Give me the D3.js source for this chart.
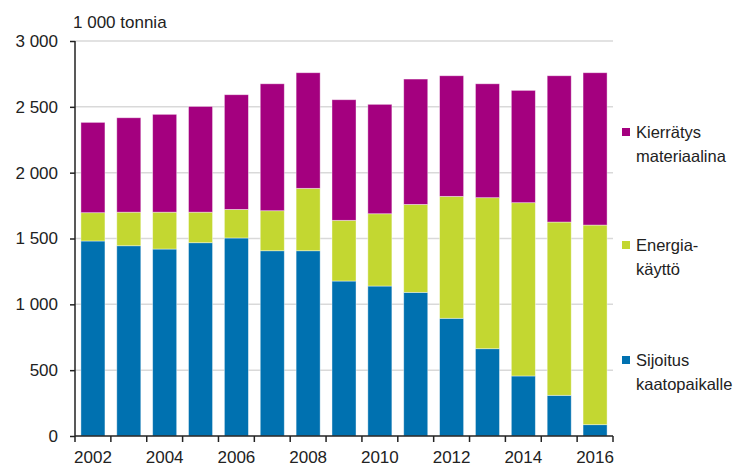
<!DOCTYPE html>
<html>
<head>
<meta charset="utf-8">
<script src="https://cdn.jsdelivr.net/npm/d3@7"></script>
<style>
  body { margin: 0; background: #fff; }
  svg text { font-family: "Liberation Sans", Arial, sans-serif; fill: #222; }
</style>
</head>
<body>
<svg id="chart" width="749" height="466"></svg>
<script>
var years = [2002, 2003, 2004, 2005, 2006, 2007, 2008, 2009, 2010, 2011, 2012, 2013, 2014, 2015, 2016];
var sijoitus = [1481, 1445, 1420, 1468, 1504, 1407, 1407, 1177, 1139, 1091, 894, 663, 456, 309, 86];
var energia = [215, 255, 280, 232, 217, 304, 474, 461, 549, 668, 926, 1147, 1316, 1316, 1516];
var kierratys = [686, 717, 743, 803, 871, 964, 878, 916, 831, 952, 916, 865, 853, 1111, 1157];
var yTicks = [0, 500, 1000, 1500, 2000, 2500, 3000];
var keys = ["sijoitus", "energia", "kierratys"];
var colors = { sijoitus: "#0071b0", energia: "#c3d731", kierratys: "#a4007f" };
var legendLabels = {
  kierratys: ["Kierrätys", "materiaalina"],
  energia: ["Energia-", "käyttö"],
  sijoitus: ["Sijoitus", "kaatopaikalle"]
};

(function() {
  var rows = years.map(function(yr, i) {
    return { year: yr, sijoitus: sijoitus[i], energia: energia[i], kierratys: kierratys[i] };
  });

  var svg = d3.select("#chart");
  var mLeft = 75, mRight = 613, mTop = 41, mBottom = 436;

  var x = d3.scaleBand().domain(years).range([mLeft, mRight]).paddingInner(0.33).paddingOuter(0.165);
  var y = d3.scaleLinear().domain([0, 3000]).range([mBottom, mTop]);

  var fmt = function(d) { return d3.format(",")(d).replace(",", " "); };

  // grid
  svg.append("g").selectAll("line").data(yTicks.slice(1)).enter().append("line")
    .attr("x1", mLeft).attr("x2", mRight)
    .attr("y1", function(d) { return y(d); }).attr("y2", function(d) { return y(d); })
    .attr("stroke", "#d9d9d9").attr("stroke-width", 1.5);

  // bars
  var stack = d3.stack().keys(keys)(rows);
  svg.append("g").selectAll("g").data(stack).enter().append("g")
    .attr("fill", function(d) { return colors[d.key]; })
    .selectAll("rect").data(function(d) { return d; }).enter().append("rect")
    .attr("x", function(d) { return x(d.data.year); })
    .attr("width", x.bandwidth())
    .attr("y", function(d) { return y(d[1]); })
    .attr("height", function(d) { return y(d[0]) - y(d[1]); })
    .attr("stroke", "#fff").attr("stroke-opacity", 0.5).attr("stroke-width", 0.8);

  // y axis
  var yAxis = d3.axisLeft(y).tickValues(yTicks).tickFormat(fmt).tickSize(5).tickPadding(12);
  var gy = svg.append("g").attr("transform", "translate(" + mLeft + ",0)").call(yAxis);
  gy.select(".domain").attr("stroke", "#222").attr("stroke-width", 1.5).attr("d", "M0," + mBottom + "V" + mTop);
  gy.selectAll(".tick line").attr("stroke", "#222").attr("stroke-width", 1.5);
  gy.selectAll("text").attr("font-size", 17).attr("fill", "#222").attr("font-family", "Liberation Sans, Arial, sans-serif");

  // x axis
  var bounds = years.map(function(yr) { return x(yr) - x.step() * x.paddingInner() / 2; }).concat([mRight]);
  svg.append("line").attr("x1", mLeft).attr("x2", mRight).attr("y1", mBottom).attr("y2", mBottom)
    .attr("stroke", "#222").attr("stroke-width", 1.5);
  svg.append("g").selectAll("line").data(bounds).enter().append("line")
    .attr("x1", function(d) { return d; }).attr("x2", function(d) { return d; })
    .attr("y1", mBottom).attr("y2", mBottom + 6)
    .attr("stroke", "#222").attr("stroke-width", 1.5);
  svg.append("g").selectAll("text").data(years.filter(function(yr) { return yr % 2 === 0; })).enter().append("text")
    .attr("x", function(d) { return x(d) + x.bandwidth() / 2; })
    .attr("y", 462.5)
    .attr("text-anchor", "middle").attr("font-size", 17)
    .text(function(d) { return d; });

  // unit
  svg.append("text").attr("x", 73).attr("y", 28).attr("font-size", 17).text("1 000 tonnia");

  // legend
  var legendY = { kierratys: 132, energia: 245, sijoitus: 360 };
  var lg = svg.append("g").selectAll("g").data(["kierratys", "energia", "sijoitus"]).enter().append("g")
    .attr("transform", function(d) { return "translate(622," + legendY[d] + ")"; });
  lg.append("rect").attr("x", 0).attr("y", -4).attr("width", 8).attr("height", 8)
    .attr("fill", function(d) { return colors[d]; });
  lg.append("text").attr("x", 14).attr("y", 6).attr("font-size", 16.5)
    .text(function(d) { return legendLabels[d][0]; });
  lg.append("text").attr("x", 14).attr("y", 29.5).attr("font-size", 16.5)
    .text(function(d) { return legendLabels[d][1]; });
})();
</script>
</body>
</html>
